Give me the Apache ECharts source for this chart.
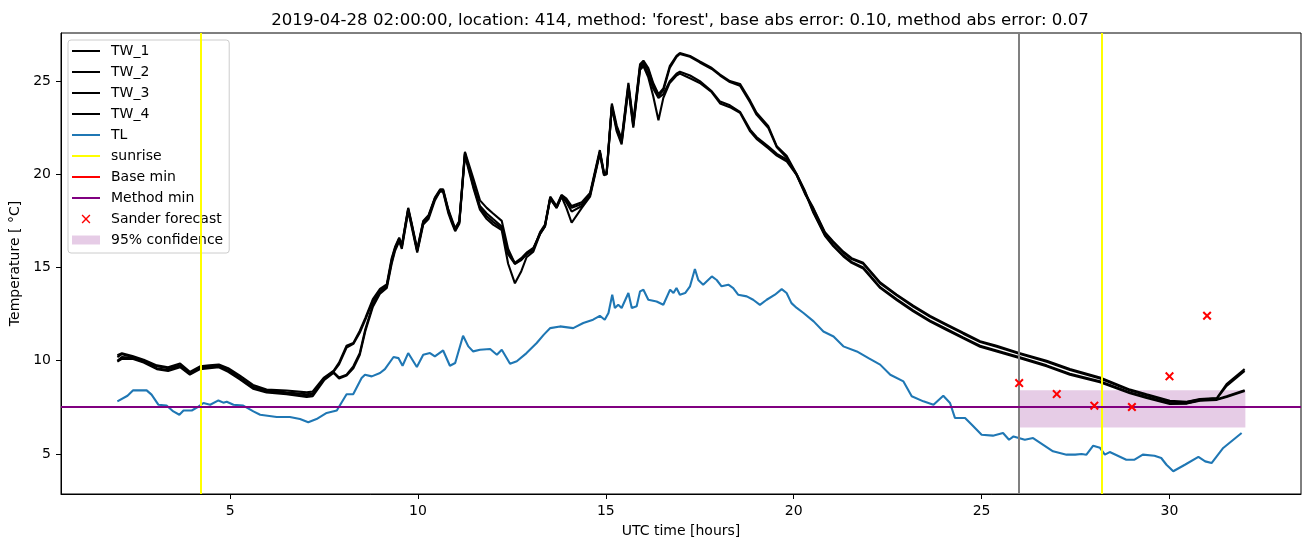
<!DOCTYPE html>
<html>
<head>
<meta charset="utf-8">
<script src="https://cdn.jsdelivr.net/npm/echarts@6/dist/echarts.min.js"></script>
<style>html,body{margin:0;padding:0;background:#fff;}#c{width:1310px;height:547px;}</style>
</head>
<body>
<div id="c"></div>
<script>
// ---- data ----
const twTimes = [2.0,2.12,2.4,2.7,3.05,3.35,3.67,3.93,4.2,4.45,4.7,4.95,5.26,5.61,5.97,6.5,7.04,7.2,7.5,7.75,7.9,8.1,8.28,8.45,8.6,8.8,8.99,9.17,9.3,9.39,9.5,9.57,9.74,9.83,9.98,10.14,10.28,10.45,10.59,10.67,10.81,10.9,10.99,11.1,11.25,11.47,11.65,11.83,12.0,12.23,12.4,12.58,12.75,12.89,13.07,13.25,13.38,13.52,13.69,13.82,13.95,14.09,14.36,14.58,14.84,14.95,15.02,15.16,15.29,15.42,15.6,15.73,15.91,16.0,16.13,16.26,16.4,16.53,16.7,16.88,16.97,17.24,17.5,17.82,18.04,18.3,18.57,18.84,19.01,19.32,19.55,19.81,20.08,20.3,20.52,20.83,21.05,21.32,21.54,21.85,22.3,22.74,23.18,23.63,24.07,24.51,24.96,25.4,26.0,26.73,27.35,28.15,28.95,29.39,30.01,30.46,30.81,31.26,31.52,32.0];
const tw1 = [10.3,10.4,10.25,10.05,9.75,9.65,9.85,9.4,9.7,9.75,9.8,9.6,9.2,8.7,8.45,8.4,8.3,8.35,9.1,9.45,9.9,10.8,10.95,11.6,12.3,13.3,13.85,14.1,15.5,16.1,16.6,16.2,18.2,17.4,16.0,17.5,17.8,18.75,19.2,19.2,18.1,17.6,17.1,17.5,21.2,19.8,18.6,18.2,17.9,17.5,16.0,15.2,15.4,15.7,15.95,16.9,17.3,18.8,18.3,18.9,18.7,18.3,18.5,19.0,21.3,20.1,20.1,23.8,22.6,21.9,24.9,22.8,25.9,26.1,25.7,24.9,24.3,24.6,25.8,26.35,26.5,26.35,26.05,25.7,25.35,25.0,24.85,23.95,23.3,22.6,21.5,21.0,20.0,19.0,18.2,16.9,16.4,15.85,15.5,15.25,14.2,13.55,12.95,12.4,11.95,11.5,11.05,10.8,10.42,10.0,9.55,9.1,8.45,8.2,7.85,7.8,7.95,8.0,8.75,9.55];
const tw2 = [10.2,10.35,10.2,10.0,9.7,9.6,9.75,9.35,9.65,9.7,9.75,9.55,9.1,8.6,8.4,8.3,8.2,8.25,9.0,9.4,9.1,9.25,9.7,10.4,11.7,13.0,13.7,14.0,15.3,16.0,16.5,16.1,18.1,17.3,15.9,17.4,17.7,18.7,19.1,19.1,18.0,17.5,17.0,17.4,21.1,19.5,18.3,17.9,17.6,17.2,15.8,15.25,15.5,15.8,16.05,16.8,17.2,18.7,18.2,18.8,18.6,18.2,18.4,18.9,21.2,20.0,20.0,23.6,22.5,21.8,24.8,22.7,25.8,26.0,25.6,24.8,24.2,24.5,25.7,26.3,26.45,26.3,26.0,25.65,25.3,24.95,24.75,23.85,23.2,22.5,21.45,20.9,19.95,18.95,18.15,16.85,16.35,15.8,15.45,15.2,14.15,13.5,12.9,12.35,11.9,11.45,11.0,10.75,10.37,9.95,9.5,9.05,8.4,8.15,7.8,7.78,7.92,7.97,8.65,9.45];
const tw3 = [10.0,10.2,10.15,9.95,9.6,9.5,9.7,9.3,9.6,9.65,9.7,9.45,9.05,8.55,8.35,8.25,8.1,8.2,9.05,9.4,9.8,10.7,10.9,11.5,12.2,13.2,13.75,14.0,15.4,16.05,16.55,16.15,18.15,17.35,15.9,17.45,17.75,18.7,19.15,19.15,18.05,17.5,17.05,17.45,21.15,19.4,18.2,17.75,17.45,17.1,15.7,15.2,15.45,15.75,16.0,16.85,17.25,18.75,18.25,18.85,18.5,18.0,18.3,18.9,21.2,20.05,20.05,23.7,22.4,21.7,24.7,22.6,25.7,25.9,25.4,24.6,24.1,24.3,25.0,25.4,25.5,25.3,25.0,24.45,23.9,23.7,23.35,22.4,22.0,21.5,21.1,20.8,20.0,19.1,18.0,16.75,16.2,15.65,15.3,15.0,13.95,13.3,12.7,12.15,11.7,11.25,10.8,10.55,10.2,9.75,9.3,8.9,8.3,8.05,7.72,7.72,7.88,7.93,8.1,8.42];
const tw4 = [9.95,10.1,10.1,9.9,9.55,9.45,9.65,9.25,9.55,9.6,9.65,9.4,9.0,8.5,8.3,8.2,8.05,8.1,8.95,9.35,9.05,9.2,9.6,10.3,11.6,12.9,13.6,13.9,15.2,15.9,16.4,16.0,18.0,17.2,15.8,17.3,17.6,18.6,19.1,19.05,17.9,17.4,16.95,17.35,21.0,19.3,18.1,17.6,17.3,17.0,15.2,14.15,14.8,15.55,15.85,16.8,17.2,18.7,18.2,18.8,18.2,17.4,18.2,18.8,21.1,19.95,20.0,23.6,22.3,21.6,24.6,22.5,25.6,25.8,25.2,24.2,22.9,24.1,24.9,25.3,25.4,25.15,24.9,24.4,23.8,23.6,23.3,22.3,21.9,21.4,21.0,20.7,19.95,19.05,17.95,16.7,16.15,15.6,15.25,14.95,13.9,13.25,12.65,12.1,11.65,11.2,10.75,10.5,10.15,9.7,9.25,8.85,8.25,8.0,7.68,7.7,7.85,7.9,8.05,8.38];
const tlTimes = [2.0,2.27,2.42,2.78,2.91,3.09,3.31,3.49,3.65,3.76,3.98,4.15,4.29,4.47,4.69,4.82,4.91,5.09,5.35,5.62,5.8,6.24,6.59,6.86,7.08,7.3,7.57,7.84,8.1,8.28,8.5,8.59,8.77,8.99,9.12,9.35,9.48,9.59,9.74,9.97,10.14,10.32,10.45,10.67,10.85,10.99,11.2,11.34,11.47,11.65,11.92,12.1,12.23,12.45,12.63,12.89,13.16,13.35,13.52,13.78,14.13,14.4,14.66,14.84,14.97,15.07,15.17,15.24,15.33,15.42,15.6,15.69,15.82,15.91,16.0,16.13,16.35,16.53,16.71,16.8,16.88,16.97,17.11,17.24,17.37,17.46,17.59,17.82,17.95,18.08,18.26,18.39,18.52,18.75,18.92,19.1,19.28,19.5,19.68,19.81,19.94,20.08,20.26,20.53,20.79,21.06,21.32,21.68,21.99,22.3,22.57,22.92,23.14,23.45,23.72,23.98,24.16,24.29,24.56,24.74,25.0,25.3,25.57,25.73,25.85,26.15,26.37,26.64,26.9,27.26,27.49,27.66,27.79,27.97,28.15,28.28,28.41,28.85,29.07,29.29,29.6,29.78,29.92,30.1,30.41,30.77,30.95,31.12,31.43,31.92];
const tl = [7.82,8.12,8.41,8.41,8.18,7.64,7.6,7.28,7.1,7.33,7.33,7.52,7.73,7.64,7.87,7.75,7.8,7.64,7.59,7.28,7.1,6.98,6.98,6.87,6.7,6.87,7.2,7.33,8.2,8.21,9.07,9.25,9.16,9.34,9.55,10.2,10.14,9.73,10.41,9.66,10.32,10.41,10.23,10.55,9.73,9.88,11.34,10.77,10.5,10.59,10.63,10.32,10.59,9.84,9.97,10.41,10.95,11.4,11.75,11.84,11.75,12.02,12.2,12.41,12.2,12.56,13.54,12.83,13.0,12.83,13.63,12.83,12.92,13.72,13.81,13.27,13.18,13.0,13.81,13.63,13.9,13.54,13.63,13.99,14.92,14.33,14.08,14.52,14.33,13.99,14.08,13.9,13.54,13.45,13.27,13.0,13.27,13.54,13.84,13.63,13.09,12.83,12.56,12.11,11.57,11.3,10.77,10.5,10.14,9.79,9.25,8.89,8.09,7.82,7.64,8.12,7.73,6.93,6.93,6.57,6.03,5.98,6.12,5.76,5.94,5.76,5.85,5.49,5.14,4.96,4.96,5.0,4.96,5.44,5.33,4.96,5.1,4.69,4.69,4.96,4.9,4.78,4.42,4.07,4.42,4.84,4.6,4.51,5.32,6.12];
const forecastTimes = [26, 27, 28, 29, 30, 31];
const forecastValues = [8.8, 8.21, 7.59, 7.52, 9.16, 12.41];
const sunriseTimes = [4.22, 28.2];
const baseMin = 7.55;
const methodMin = 7.55;
const forecastStart = 26.0;
const bandX = [26.0, 32.02];
const bandY = [6.42, 8.41];
const xTicks = [5, 10, 15, 20, 25, 30];
const yTicks = [5, 10, 15, 20, 25];
const titleText = "2019-04-28 02:00:00, location: 414, method: 'forest', base abs error: 0.10, method abs error: 0.07";

// ---- chart ----
const zip = (xs, ys) => xs.map((x, i) => [x, ys[i]]);
const FONT = 'DejaVu Sans';
const chart = echarts.init(document.getElementById('c'), null, {renderer: 'canvas'});
const lineIcon = 'path://M0,0L0.05,0L0,0.05Z M0,6 L28,6 L28,8 L0,8 Z M28,14L27.95,14L28,13.95Z';
const xIcon = 'path://M0,0L0.05,0L0,0.05Z M28,14L27.95,14L28,13.95Z M9.6,3.6 L10.6,2.6 L14,6 L17.4,2.6 L18.4,3.6 L15,7 L18.4,10.4 L17.4,11.4 L14,8 L10.6,11.4 L9.6,10.4 L13,7 Z';
const rectIcon = 'path://M0,0L0.05,0L0,0.05Z M0,2.5 L28,2.5 L28,11.5 L0,11.5 Z M28,14L27.95,14L28,13.95Z';
const markerX = 'path://M0,1.6 L1.6,0 L5,3.4 L8.4,0 L10,1.6 L6.6,5 L10,8.4 L8.4,10 L5,6.6 L1.6,10 L0,8.4 L3.4,5 Z';

function twSeries(name, vals) {
  return {name, type: 'line', data: zip(twTimes, vals), showSymbol: false, symbol: 'none',
    lineStyle: {color: '#000', width: 2.1}, itemStyle: {color: '#000'}, z: 3, silent: true, animation: false};
}

const option = {
  animation: false,
  backgroundColor: '#fff',
  title: {text: titleText, left: 675, top: 7, textAlign: 'center',
    textStyle: {fontFamily: FONT, fontSize: 16.6, fontWeight: 'normal', color: '#000'}},
  grid: {left: 61, top: 33, right: 9, bottom: 53, show: true, borderColor: '#000', borderWidth: 1, backgroundColor: 'transparent'},
  legend: {
    orient: 'vertical', left: 68, top: 40, padding: [4, 6, 6, 4], itemGap: 7,
    itemWidth: 28, itemHeight: 14,
    backgroundColor: 'rgba(255,255,255,0.8)', borderColor: '#cccccc', borderWidth: 1, borderRadius: 3,
    textStyle: {fontFamily: FONT, fontSize: 14, color: '#000', padding: [0, 0, 0, 6]},
    selectedMode: false,
    data: [
      {name: 'TW_1', icon: lineIcon, itemStyle: {color: '#000'}},
      {name: 'TW_2', icon: lineIcon, itemStyle: {color: '#000'}},
      {name: 'TW_3', icon: lineIcon, itemStyle: {color: '#000'}},
      {name: 'TW_4', icon: lineIcon, itemStyle: {color: '#000'}},
      {name: 'TL', icon: lineIcon, itemStyle: {color: '#1f77b4'}},
      {name: 'sunrise', icon: lineIcon, itemStyle: {color: '#ffff00'}},
      {name: 'Base min', icon: lineIcon, itemStyle: {color: '#ff0000'}},
      {name: 'Method min', icon: lineIcon, itemStyle: {color: '#800080'}},
      {name: 'Sander forecast', icon: xIcon, itemStyle: {color: '#ff0000'}},
      {name: '95% confidence', icon: rectIcon, itemStyle: {color: 'rgba(128,0,128,0.2)'}}
    ]
  },
  xAxis: {
    type: 'value', min: 0.5, max: 33.5,
    name: 'UTC time [hours]', nameLocation: 'middle', nameGap: 30,
    nameTextStyle: {fontFamily: FONT, fontSize: 14, color: '#000'},
    axisLine: {show: true, onZero: false, lineStyle: {color: '#000', width: 1}},
    axisTick: {show: true, length: 5, lineStyle: {color: '#000'}, customValues: xTicks},
    axisLabel: {fontFamily: FONT, fontSize: 14, color: '#000', margin: 10, customValues: xTicks},
    splitLine: {show: false}
  },
  yAxis: {
    type: 'value', min: 2.85, max: 27.58,
    name: 'Temperature [ °C]', nameLocation: 'middle', nameGap: 37, nameRotate: 90,
    nameTextStyle: {fontFamily: FONT, fontSize: 14, color: '#000'},
    axisLine: {show: true, onZero: false, lineStyle: {color: '#000', width: 1}},
    axisTick: {show: true, length: 5, lineStyle: {color: '#000'}, customValues: yTicks},
    axisLabel: {fontFamily: FONT, fontSize: 14, color: '#000', margin: 10, customValues: yTicks},
    splitLine: {show: false}
  },
  series: [
    twSeries('TW_1', tw1),
    twSeries('TW_2', tw2),
    twSeries('TW_3', tw3),
    twSeries('TW_4', tw4),
    {name: 'TL', type: 'line', data: zip(tlTimes, tl), showSymbol: false, symbol: 'none',
      lineStyle: {color: '#1f77b4', width: 2.1}, itemStyle: {color: '#1f77b4'}, z: 3},
    {name: '95% confidence', type: 'line', data: [], itemStyle: {color: 'rgba(128,0,128,0.2)'}, z: 4,
      markArea: {silent: true, itemStyle: {color: 'rgba(128,0,128,0.2)'},
        data: [[{coord: [bandX[0], bandY[1]]}, {coord: [bandX[1], bandY[0]]}]]},
      markLine: {silent: true, symbol: 'none', label: {show: false},
        lineStyle: {color: '#808080', width: 2, type: 'solid'}, data: [{xAxis: forecastStart}]}},
    {name: 'sunrise', type: 'line', data: [], itemStyle: {color: '#ffff00'}, z: 5,
      markLine: {silent: true, symbol: 'none', label: {show: false},
        lineStyle: {color: '#ffff00', width: 2, type: 'solid'}, data: sunriseTimes.map(t => ({xAxis: t}))}},
    {name: 'Base min', type: 'line', data: [], itemStyle: {color: '#ff0000'}, z: 5,
      markLine: {silent: true, symbol: 'none', label: {show: false},
        lineStyle: {color: '#ff0000', width: 2, type: 'solid'}, data: [{yAxis: baseMin}]}},
    {name: 'Method min', type: 'line', data: [], itemStyle: {color: '#800080'}, z: 6,
      markLine: {silent: true, symbol: 'none', label: {show: false},
        lineStyle: {color: '#800080', width: 2, type: 'solid'}, data: [{yAxis: methodMin}]}},
    {name: 'Sander forecast', type: 'scatter', data: zip(forecastTimes, forecastValues),
      symbol: markerX, symbolSize: 9, itemStyle: {color: '#ff0000', opacity: 1}, z: 7}
  ]
};
chart.setOption(option);
</script>
</body>
</html>
